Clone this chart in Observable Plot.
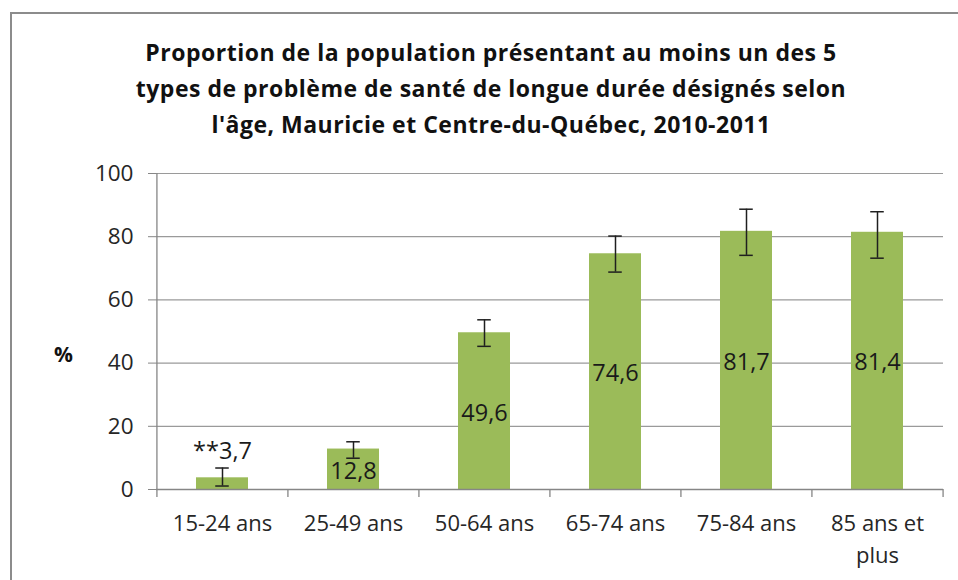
<!DOCTYPE html>
<html>
<head>
<meta charset="utf-8">
<script src="https://cdn.jsdelivr.net/npm/d3@7"></script>
<script src="https://cdn.jsdelivr.net/npm/@observablehq/plot@0.6"></script>
<style>
  html, body { margin: 0; padding: 0; background: #fff; }
  body { width: 958px; height: 580px; overflow: hidden; position: relative; font-family: "Open Sans", Lato, sans-serif; }
  #frame { position: absolute; left: 10px; top: 12px; width: 1000px; height: 700px; border-left: 2px solid #8c8c8c; border-top: 2px solid #8c8c8c; box-sizing: border-box; pointer-events: none; }
  #title { position: relative; height: 150px; box-sizing: border-box; padding-top: 34px; margin-left: 10px; width: 962px; text-align: center; font-weight: bold; font-size: 23px; letter-spacing: 0.5px; line-height: 36px; color: #111; white-space: nowrap; }
  #chart svg { display: block; }
</style>
</head>
<body>
<div id="frame"></div>
<div id="title">Proportion de la population présentant au moins un des 5<br>types de problème de santé de longue durée désignés selon<br>l'âge, Mauricie et Centre-du-Québec, 2010-2011</div>
<div id="chart"></div>
<script>
const categories = ["15-24 ans", "25-49 ans", "50-64 ans", "65-74 ans", "75-84 ans", "85 ans et\nplus"];
const values = [3.7, 12.8, 49.6, 74.6, 81.7, 81.4];
const lower = [1.1, 9.9, 45.3, 68.8, 74.1, 73.2];
const upper = [6.8, 15.1, 53.7, 80.2, 88.7, 87.9];
const flags = ["**", "", "", "", "", ""];
const yTicks = [0, 20, 40, 60, 80, 100];

const data = categories.map((c, i) => ({cat: c, value: values[i], lo: lower[i], hi: upper[i], flag: flags[i]}));
const fmt = v => v.toFixed(1).replace(".", ",");

const W = 958, H = 430, mL = 156, mR = 15, mT = 23, mB = 91;
const step = (W - mL - mR) / categories.length;
const capInset = (step * 0.4 - 14) / 2;
const FONT = "'Open Sans', Lato, sans-serif";

const chart = Plot.plot({
  width: W, height: H,
  marginLeft: mL, marginRight: mR, marginTop: mT, marginBottom: mB,
  style: {fontFamily: FONT, background: "#fff"},
  x: {type: "band", domain: categories, paddingInner: 0.6, paddingOuter: 0.3, label: null},
  y: {domain: [0, 100], label: null},
  marks: [
    Plot.gridY(yTicks, {stroke: "#9a9a9a", strokeOpacity: 1, strokeWidth: 1.2}),
    Plot.barY(data, {x: "cat", y: "value", fill: "#9BBB59"}),
    Plot.ruleX([categories[0]], {x: d => d, y1: 0, y2: 100, dx: -step / 2, stroke: "#868686", strokeWidth: 1.3}),
    Plot.ruleX(categories, {x: d => d, y1: 0, y2: 0, dx: -step / 2, insetBottom: -8, stroke: "#868686", strokeWidth: 1.3}),
    Plot.ruleX([categories[categories.length - 1]], {x: d => d, y1: 0, y2: 0, dx: step / 2, insetBottom: -8, stroke: "#868686", strokeWidth: 1.3}),
    Plot.ruleY([0], {stroke: "#868686", strokeWidth: 1.3}),
    Plot.ruleX(data, {x: "cat", y1: "lo", y2: "hi", stroke: "#1f1f1f", strokeWidth: 1.5}),
    Plot.tickY(data, {x: "cat", y: "lo", insetLeft: capInset, insetRight: capInset, stroke: "#1f1f1f", strokeWidth: 1.5}),
    Plot.tickY(data, {x: "cat", y: "hi", insetLeft: capInset, insetRight: capInset, stroke: "#1f1f1f", strokeWidth: 1.5}),
    Plot.text(data.filter(d => !d.flag), {x: "cat", y: d => d.value / 2, text: d => fmt(d.value), fontSize: 23.5, fill: "#1a1a1a", dy: 2}),
    Plot.text(data.filter(d => d.flag), {x: "cat", y: "hi", text: d => d.flag + fmt(d.value), fontSize: 23.5, fill: "#1a1a1a", dy: -17}),
    Plot.axisY({ticks: yTicks, tickSize: 8, tickPadding: 15, fontSize: 22.5, stroke: "#868686", color: "#262626", label: null, tickFormat: d => String(d)}),
    Plot.axisX({tickSize: 0, tickPadding: 19, fontSize: 22, lineHeight: 1.45, color: "#262626", label: null}),
    Plot.text(["%"], {frameAnchor: "left", dx: -93, dy: 24, text: d => d, fontSize: 21, fontWeight: "bold", fill: "#111", textAnchor: "middle"})
  ]
});
document.getElementById("chart").appendChild(chart);
</script>
</body>
</html>
